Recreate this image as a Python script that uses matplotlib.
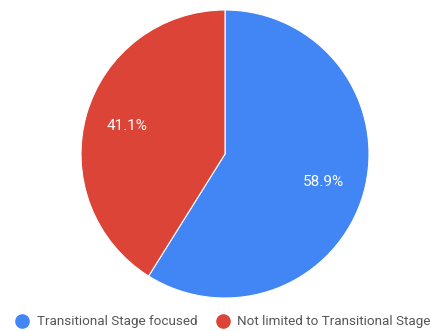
import matplotlib.pyplot as plt
from matplotlib.lines import Line2D

plt.rcParams['font.family'] = ['Roboto', 'DejaVu Sans']

labels = ['Transitional Stage focused', 'Not limited to Transitional Stage']
shares = [58.9, 41.1]
colors = ['#4285F4', '#DB4437']

fig = plt.figure(figsize=(4.38, 3.31), dpi=100)
ax = fig.add_axes([81 / 438, 33 / 331, 288 / 438, 288 / 331])

wedges, texts, autotexts = ax.pie(
    shares, colors=colors, startangle=90, counterclock=False,
    autopct='%1.1f%%', pctdistance=0.71,
    wedgeprops=dict(edgecolor='white', linewidth=0.8),
    textprops=dict(color='white', fontsize=11))
ax.set_xlim(-1, 1)
ax.set_ylim(-1, 1)
ax.set_aspect('equal')

handles = [Line2D([], [], marker='o', linestyle='none', markersize=9.5,
                  markerfacecolor=c, markeredgecolor=c) for c in colors]
fig.legend(handles, labels, loc='center left', bbox_to_anchor=(9 / 438, 1 - 322 / 331),
           ncol=2, frameon=False, fontsize=9.7, labelcolor='#555555',
           handletextpad=0.45, columnspacing=1.3, handlelength=1.2, borderaxespad=0)

fig.savefig('out.png', dpi=100)
